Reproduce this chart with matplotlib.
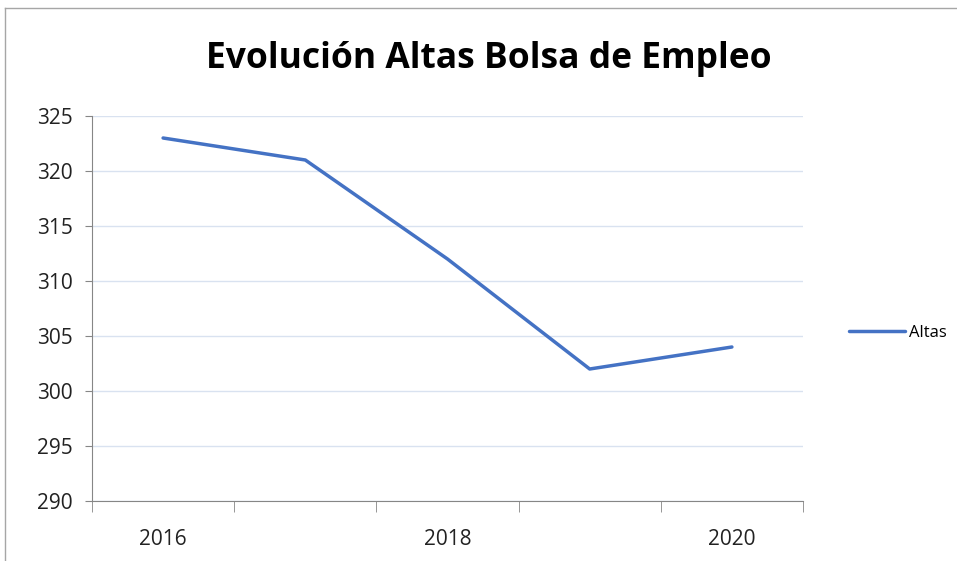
import matplotlib.pyplot as plt
from matplotlib.lines import Line2D

years = ["2016", "2017", "2018", "2019", "2020"]
altas = [323, 321, 312, 302, 304]
shown_labels = ["2016", "", "2018", "", "2020"]

plt.rcParams["font.family"] = ["Open Sans", "DejaVu Sans"]

fig = plt.figure(figsize=(9.57, 5.61), dpi=100)
ax = fig.add_axes([92 / 957, 1 - 501 / 561, (803 - 92) / 957, (501 - 116) / 561])

x = list(range(len(years)))
ax.plot(x, altas, color="#4472c4", linewidth=2.5, label="Altas", solid_capstyle="round")

ax.set_xlim(-0.5, len(years) - 0.5)
ax.set_ylim(290, 325)
ax.set_yticks(range(290, 326, 5))
ax.grid(axis="y", color="#d9e2f0", linewidth=1)
ax.set_axisbelow(True)

# category labels in the middle, tick marks between categories
ax.set_xticks(x)
ax.set_xticklabels(shown_labels)
ax.set_xticks([i - 0.5 for i in range(len(years) + 1)], minor=True)
ax.tick_params(axis="x", which="major", length=0, pad=20, labelsize=15, colors="#222222")
ax.tick_params(axis="x", which="minor", length=8, color="#868686")
ax.tick_params(axis="y", length=5, color="#868686", labelsize=15, labelcolor="#222222", pad=9)

for side in ["top", "right"]:
    ax.spines[side].set_visible(False)
for side in ["left", "bottom"]:
    ax.spines[side].set_color("#868686")

fig.text(489 / 957, 1 - 59 / 561, "Evolución Altas Bolsa de Empleo",
         ha="center", va="center", fontsize=25.5, fontweight="bold")

ax.legend(loc="center left", bbox_to_anchor=(1.043, 1 - (333 - 116) / 385), frameon=False,
          fontsize=12, handlelength=3.4, handletextpad=0.25)

# outer chart border (crop shows top and left edges)
fig.add_artist(Line2D([5 / 957, 1], [1 - 8 / 561, 1 - 8 / 561], color="#a6a6a6", linewidth=1))
fig.add_artist(Line2D([5 / 957, 5 / 957], [0, 1 - 8 / 561], color="#a6a6a6", linewidth=1))

fig.savefig("out.png", dpi=100)
